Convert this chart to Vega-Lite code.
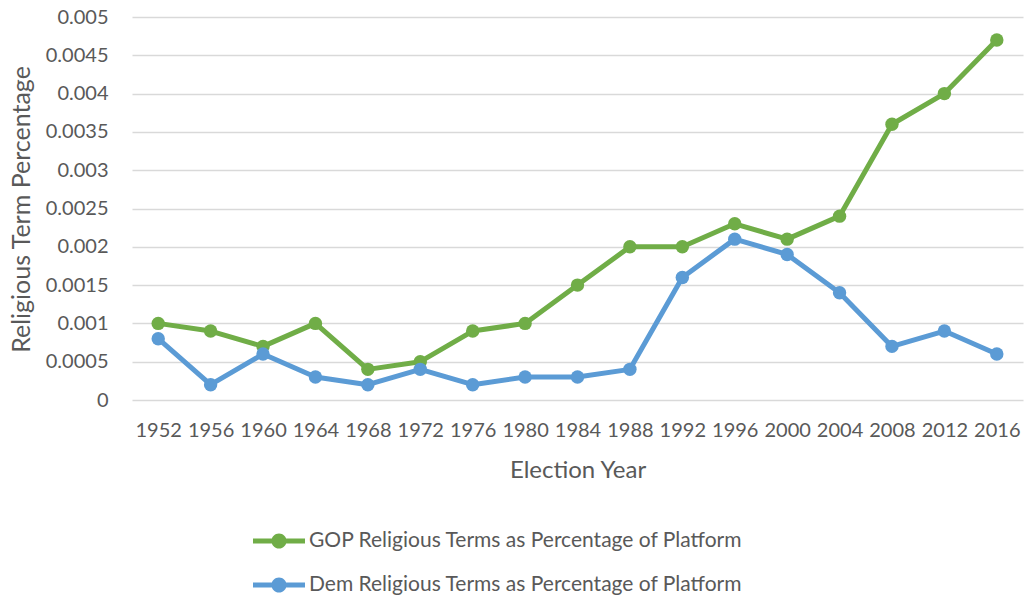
{
  "$schema": "https://vega.github.io/schema/vega-lite/v6.json",
  "width": 891,
  "height": 383,
  "autosize": {"type": "none"},
  "padding": {"left": 132, "top": 17, "right": 6, "bottom": 200},
  "background": "white",
  "config": {
    "view": {"stroke": null},
    "font": "Lato",
    "axis": {
      "labelFont": "Lato",
      "titleFont": "Lato",
      "labelColor": "#595959",
      "titleColor": "#595959",
      "labelFontSize": 20,
      "titleFontSize": 24,
      "titleFontWeight": "normal"
    },
    "legend": {
      "labelFont": "Lato",
      "labelColor": "#595959",
      "labelFontSize": 21,
      "labelLimit": 0
    }
  },
  "data": {
    "values": [
      {"year": "1952", "series": "GOP Religious Terms as Percentage of Platform", "share": 0.001},
      {"year": "1956", "series": "GOP Religious Terms as Percentage of Platform", "share": 0.0009},
      {"year": "1960", "series": "GOP Religious Terms as Percentage of Platform", "share": 0.0007},
      {"year": "1964", "series": "GOP Religious Terms as Percentage of Platform", "share": 0.001},
      {"year": "1968", "series": "GOP Religious Terms as Percentage of Platform", "share": 0.0004},
      {"year": "1972", "series": "GOP Religious Terms as Percentage of Platform", "share": 0.0005},
      {"year": "1976", "series": "GOP Religious Terms as Percentage of Platform", "share": 0.0009},
      {"year": "1980", "series": "GOP Religious Terms as Percentage of Platform", "share": 0.001},
      {"year": "1984", "series": "GOP Religious Terms as Percentage of Platform", "share": 0.0015},
      {"year": "1988", "series": "GOP Religious Terms as Percentage of Platform", "share": 0.002},
      {"year": "1992", "series": "GOP Religious Terms as Percentage of Platform", "share": 0.002},
      {"year": "1996", "series": "GOP Religious Terms as Percentage of Platform", "share": 0.0023},
      {"year": "2000", "series": "GOP Religious Terms as Percentage of Platform", "share": 0.0021},
      {"year": "2004", "series": "GOP Religious Terms as Percentage of Platform", "share": 0.0024},
      {"year": "2008", "series": "GOP Religious Terms as Percentage of Platform", "share": 0.0036},
      {"year": "2012", "series": "GOP Religious Terms as Percentage of Platform", "share": 0.004},
      {"year": "2016", "series": "GOP Religious Terms as Percentage of Platform", "share": 0.0047},
      {"year": "1952", "series": "Dem Religious Terms as Percentage of Platform", "share": 0.0008},
      {"year": "1956", "series": "Dem Religious Terms as Percentage of Platform", "share": 0.0002},
      {"year": "1960", "series": "Dem Religious Terms as Percentage of Platform", "share": 0.0006},
      {"year": "1964", "series": "Dem Religious Terms as Percentage of Platform", "share": 0.0003},
      {"year": "1968", "series": "Dem Religious Terms as Percentage of Platform", "share": 0.0002},
      {"year": "1972", "series": "Dem Religious Terms as Percentage of Platform", "share": 0.0004},
      {"year": "1976", "series": "Dem Religious Terms as Percentage of Platform", "share": 0.0002},
      {"year": "1980", "series": "Dem Religious Terms as Percentage of Platform", "share": 0.0003},
      {"year": "1984", "series": "Dem Religious Terms as Percentage of Platform", "share": 0.0003},
      {"year": "1988", "series": "Dem Religious Terms as Percentage of Platform", "share": 0.0004},
      {"year": "1992", "series": "Dem Religious Terms as Percentage of Platform", "share": 0.0016},
      {"year": "1996", "series": "Dem Religious Terms as Percentage of Platform", "share": 0.0021},
      {"year": "2000", "series": "Dem Religious Terms as Percentage of Platform", "share": 0.0019},
      {"year": "2004", "series": "Dem Religious Terms as Percentage of Platform", "share": 0.0014},
      {"year": "2008", "series": "Dem Religious Terms as Percentage of Platform", "share": 0.0007},
      {"year": "2012", "series": "Dem Religious Terms as Percentage of Platform", "share": 0.0009},
      {"year": "2016", "series": "Dem Religious Terms as Percentage of Platform", "share": 0.0006}
    ]
  },
  "encoding": {
    "x": {
      "field": "year",
      "type": "ordinal",
      "scale": {"type": "point", "padding": 0.5},
      "axis": {
        "title": "Election Year",
        "labelAngle": 0,
        "labelPadding": 20,
        "ticks": false,
        "domain": false,
        "grid": false,
        "titleX": 445.5,
        "titleY": 70,
        "titleBaseline": "middle",
        "titleAlign": "center"
      }
    },
    "y": {
      "field": "share",
      "type": "quantitative",
      "scale": {"domain": [0, 0.005], "nice": false, "zero": true},
      "axis": {
        "title": "Religious Term Percentage",
        "titleFontSize": 25,
        "values": [0, 0.0005, 0.001, 0.0015, 0.002, 0.0025, 0.003, 0.0035, 0.004, 0.0045, 0.005],
        "format": "~g",
        "ticks": false,
        "domain": false,
        "labelPadding": 24,
        "gridColor": "#D9D9D9",
        "gridWidth": 1.3,
        "titleAngle": -90,
        "titleX": -111,
        "titleY": 192,
        "titleAlign": "center",
        "titleBaseline": "middle"
      }
    },
    "color": {
      "field": "series",
      "type": "nominal",
      "sort": ["GOP Religious Terms as Percentage of Platform", "Dem Religious Terms as Percentage of Platform"],
      "scale": {
        "domain": ["GOP Religious Terms as Percentage of Platform", "Dem Religious Terms as Percentage of Platform"],
        "range": ["#70AD47", "#5B9BD5"]
      },
      "legend": {
        "title": null,
        "orient": "none",
        "direction": "vertical",
        "legendX": 134,
        "legendY": 511,
        "padding": 0,
        "symbolSize": 676,
        "symbolType": "M-2,-0.19H2V0.19H-2Z M0.58,0A0.58,0.58,0,1,1,-0.58,0A0.58,0.58,0,1,1,0.58,0Z",
        "symbolStrokeWidth": 0,
        "symbolOpacity": 1,
        "labelOffset": 17,
        "rowPadding": 21,
        "encode": {
          "symbols": {
            "update": {
              "fill": {"scale": "color", "field": "value"},
              "strokeWidth": {"value": 0}
            }
          }
        }
      }
    }
  },
  "layer": [
    {
      "mark": {"type": "line", "strokeWidth": 5, "strokeCap": "round", "strokeJoin": "round"}
    },
    {
      "mark": {"type": "point", "shape": "circle", "filled": true, "size": 180, "opacity": 1}
    }
  ]
}
